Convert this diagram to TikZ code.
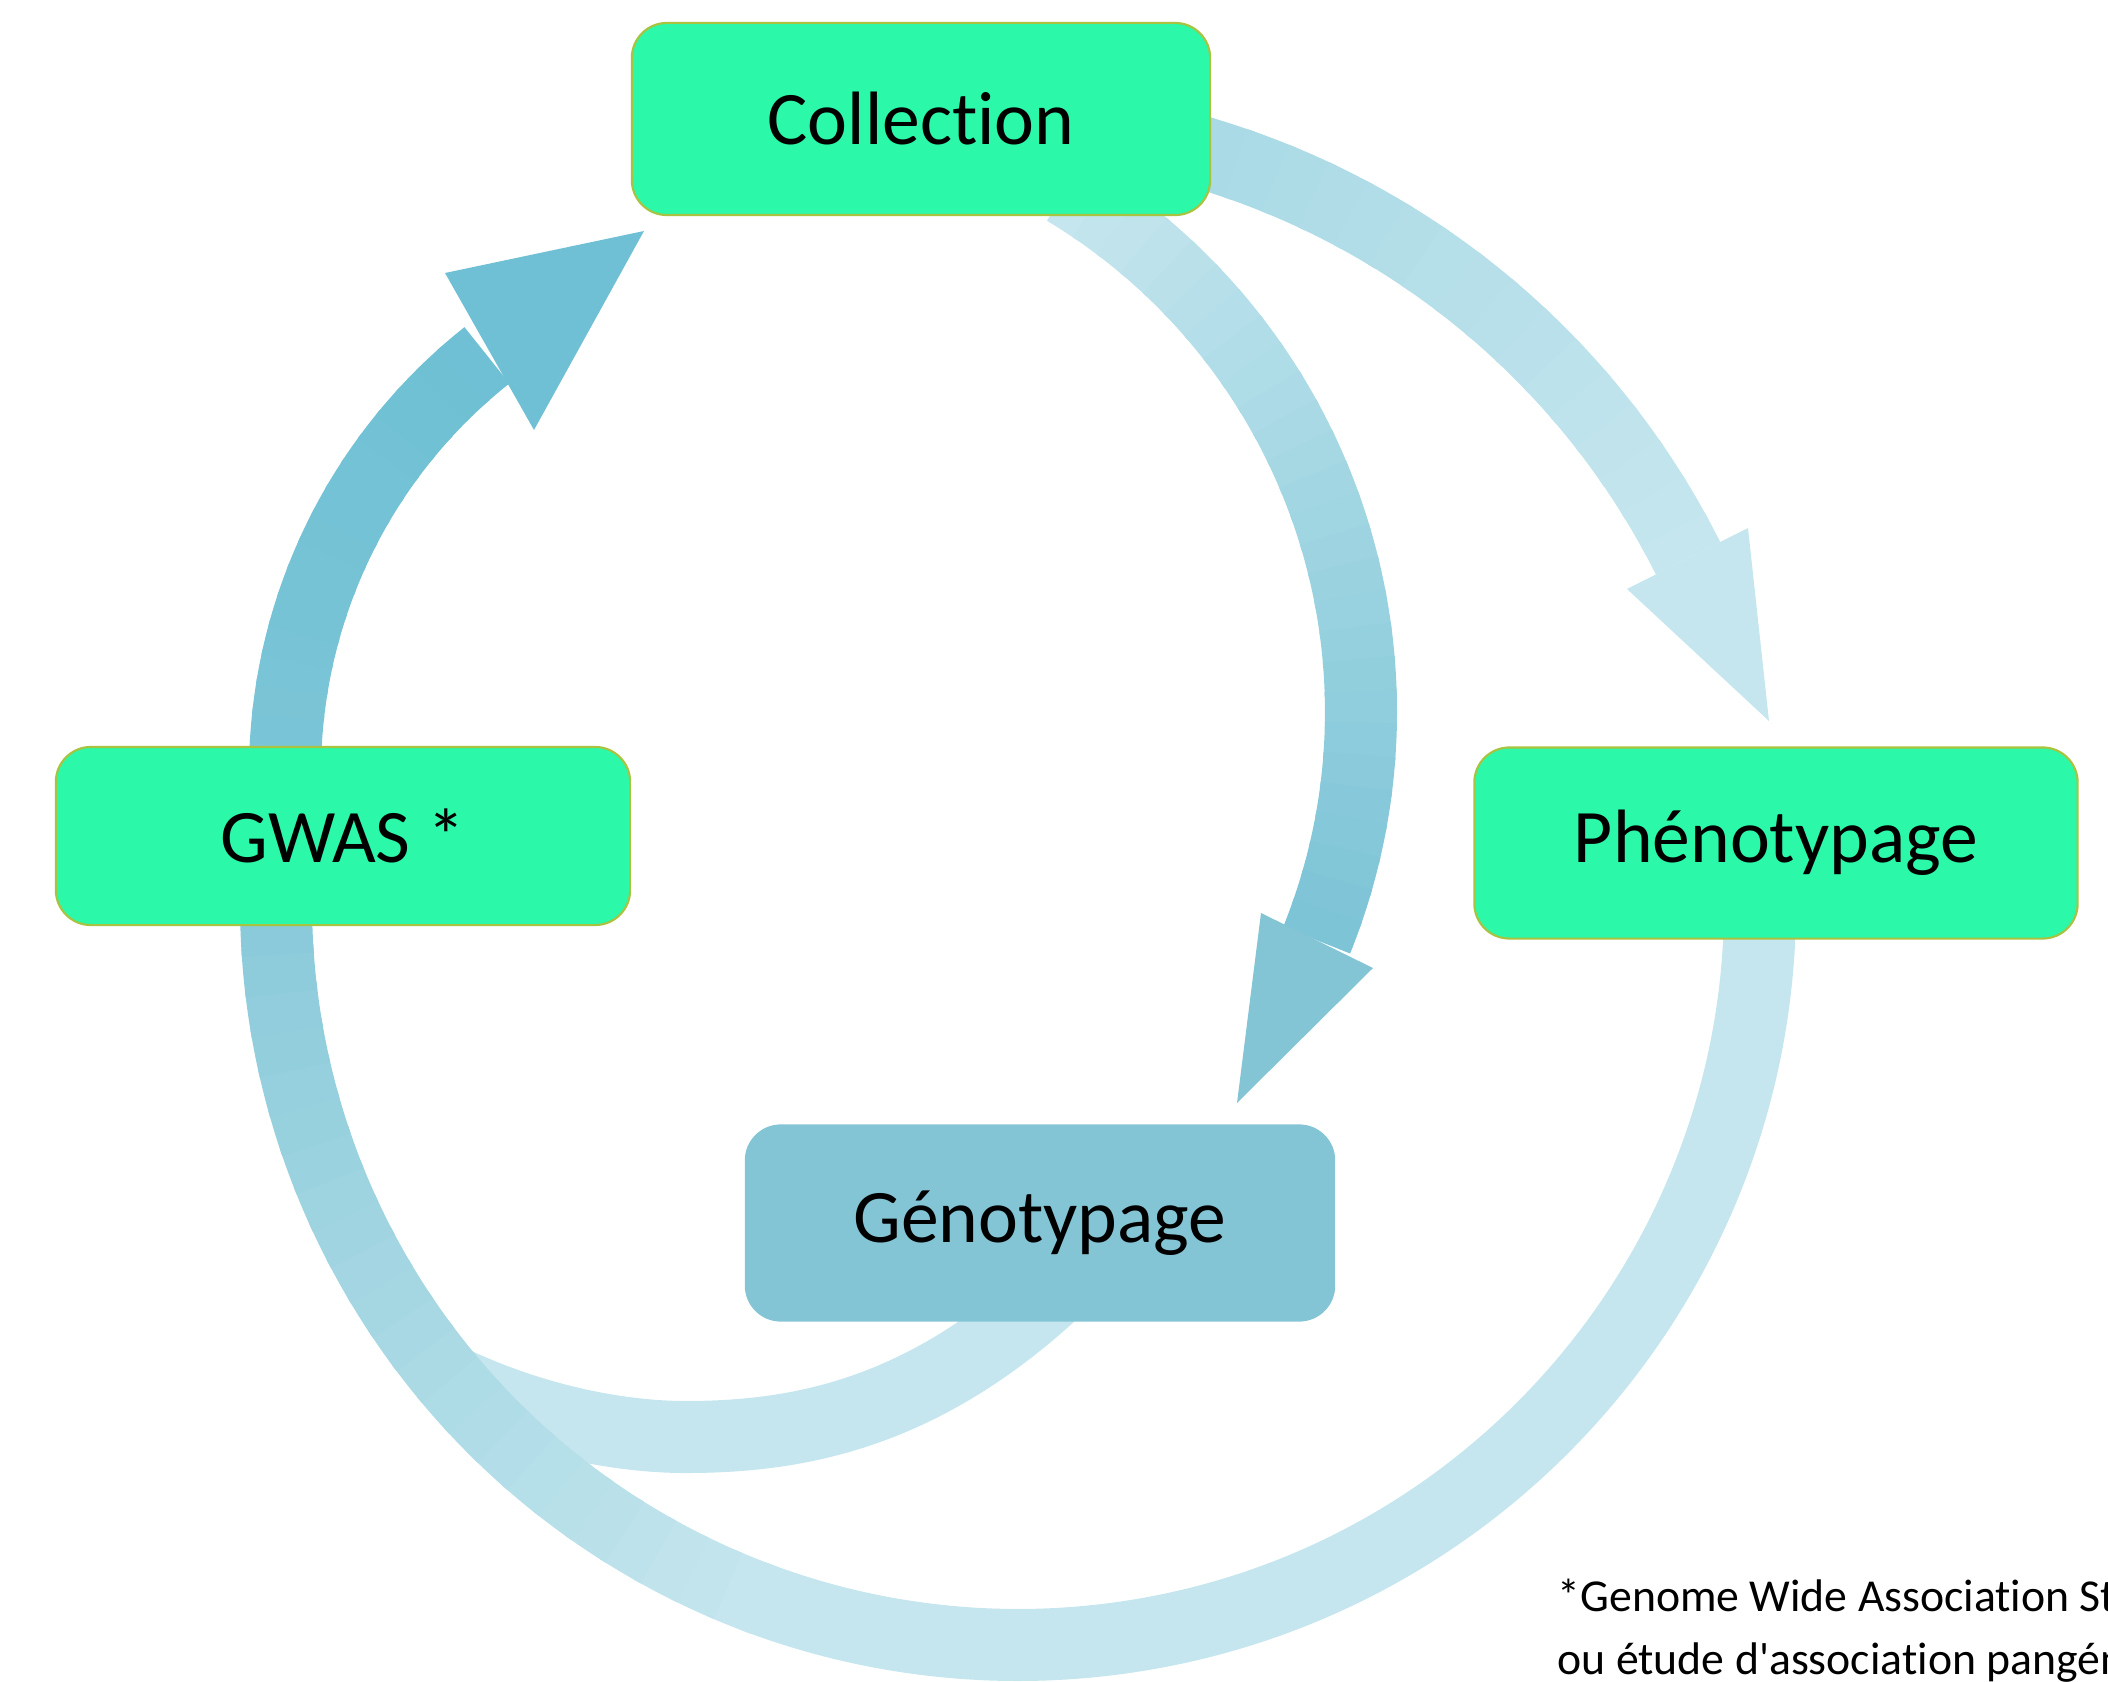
\documentclass[tikz,border=0pt]{standalone}
\usepackage{fontspec}
\setmainfont{Carlito}[Ligatures={TeX,NoCommon}]
\usepackage{xcolor}
\usepackage{tikz}

\definecolor{stagegreen}{HTML}{2BF8A8}
\definecolor{stageline}{HTML}{A9C23F}
\definecolor{genofill}{HTML}{84C5D5}
\definecolor{flowlight}{HTML}{C5E6EE}
\definecolor{flowdark}{HTML}{6FC0D4}
\definecolor{flowleft}{HTML}{7CC5D7}
\definecolor{flowmid}{HTML}{86C8D8}
\definecolor{flowtop}{HTML}{A6D8E4}
\definecolor{flowgeno}{HTML}{7CC4D6}

\tikzset{
  stage/.style={draw=stageline, line width=0.6pt, fill=stagegreen, rounded corners=0.35cm,
    font=\fontsize{21.5}{26}\selectfont},
  band/.style={line width=0.72cm},
  note/.style={anchor=base west, inner sep=0pt, font=\fontsize{13}{18}\selectfont}
}

\begin{document}
\begin{tikzpicture}[x=0.01cm, y=0.01cm, yscale=-1]
  \useasboundingbox (0,0) rectangle (2108,1682);
  \clip (0,0) rectangle (2108,1682);

  % centres of the round arrows
  \coordinate (ring) at (1018,903);
  \coordinate (left) at (818,773);
  \coordinate (upper) at (977,916);
  \coordinate (inner) at (752,712);

  % Genotypage back into the ring
  \begin{scope}
    \clip (ring) circle[radius=760];
    \draw[band, flowlight] (1050,1295) .. controls (920,1413) and (800,1437) .. (686,1437)
      .. controls (600,1437) and (500,1410) .. (420,1365);
  \end{scope}

  % big ring Phenotypage -> GWAS
  \draw[band, flowlight] (ring) ++(-5:742) arc[start angle=-5, end angle=111, radius=742];
  \foreach \a in {110,113,...,182}{
    \pgfmathsetmacro{\b}{\a+3.6}
    \pgfmathsetmacro{\p}{(\a-110)/72*100}
    \draw[band, flowmid!\p!flowlight] (ring) ++(\a:742) arc[start angle=\a, end angle=\b, radius=742];
  }

  % GWAS -> Collection
  \coordinate (tipC) at (644,231);
  \foreach \a in {177,180,...,228}{
    \pgfmathsetmacro{\b}{min(\a+3.6,232)}
    \pgfmathsetmacro{\p}{(\a-177)/51*100}
    \draw[band, flowdark!\p!flowleft] (left) ++(\a:533) arc[start angle=\a, end angle=\b, radius=533];
  }
  \fill[flowdark] (445,273) -- (tipC) -- (534,430) -- cycle;

  % Collection -> Phenotypage
  \coordinate (tipP) at (1769,721);
  \foreach \a in {-80,-77,...,-29}{
    \pgfmathsetmacro{\b}{min(\a+3.6,-26.7)}
    \pgfmathsetmacro{\p}{(\a+80)/51*100}
    \draw[band, flowlight!\p!flowtop] (upper) ++(\a:796) arc[start angle=\a, end angle=\b, radius=796];
  }
  \fill[flowlight] (1627,589) -- (tipP) -- (1748,528) -- cycle;

  % Collection -> Genotypage
  \coordinate (tipG) at (1237,1103);
  \foreach \a in {-59,-56,...,19}{
    \pgfmathsetmacro{\b}{min(\a+3.6,22)}
    \pgfmathsetmacro{\p}{(\a+59)/78*100}
    \draw[band, flowgeno!\p!flowlight] (inner) ++(\a:609) arc[start angle=\a, end angle=\b, radius=609];
  }
  \fill[genofill] (1261,913) -- (tipG) -- (1373,968) -- cycle;

  % the four steps
  \node[stage, minimum width=5.78cm, minimum height=1.92cm] (coll) at (921,119) {Collection};
  \node[stage, minimum width=5.74cm, minimum height=1.78cm] (gwas) at (343,836) {GWAS *};
  \node[stage, minimum width=6.03cm, minimum height=1.91cm] (pheno) at (1776,843) {Phénotypage};
  \node[stage, draw=genofill, fill=genofill, minimum width=5.88cm, minimum height=1.95cm] (geno) at (1040,1223) {Génotypage};

  \node[note] (note1) at (1557,1611) {*Genome Wide Association Study};
  \node[note] (note2) at (1557,1674) {ou étude d\textquotesingle association pangénomique};
\end{tikzpicture}
\end{document}
